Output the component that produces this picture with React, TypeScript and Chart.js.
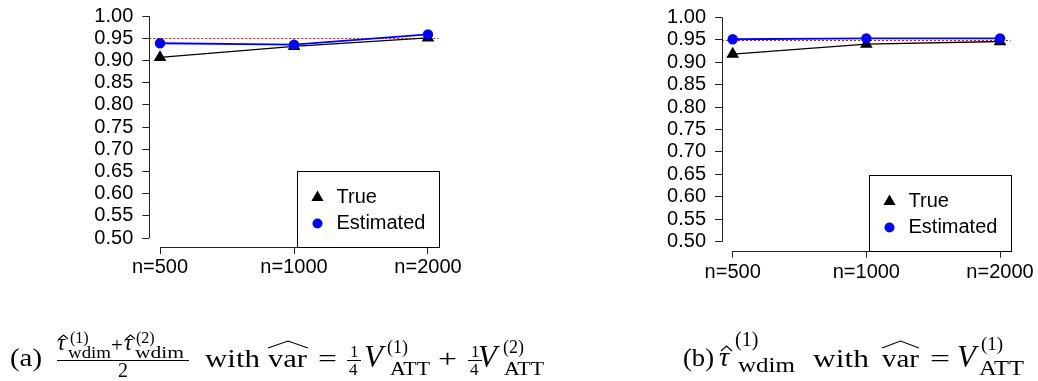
import React, { useEffect, useRef } from "react";
import { Chart, registerables } from "chart.js";

Chart.register(...registerables);

// ---------- data ----------
const categories = ["n=500", "n=1000", "n=2000"];
const yTickValues = [0.5, 0.55, 0.6, 0.65, 0.7, 0.75, 0.8, 0.85, 0.9, 0.95, 1.0];
const yTickLabels = ["0.50", "0.55", "0.60", "0.65", "0.70", "0.75", "0.80", "0.85", "0.90", "0.95", "1.00"];
const seriesNames = ["True", "Estimated"];
const trueA = [0.907, 0.932, 0.951];
const estimatedA = [0.939, 0.936, 0.959];
const trueB = [0.918, 0.94, 0.946];
const estimatedB = [0.951, 0.953, 0.953];
const nominalLevel = 0.95;
const yMin = 0.48;
const yMax = 1.02;
const xMin = 0.92;
const xMax = 3.08;

const SANS = "'Liberation Sans', Arial, Helvetica, sans-serif";
const SERIF = "'Liberation Serif', 'Times New Roman', serif";

type PanelCfg = {
  left: number;
  width: number;
  height: number;
  yAxisWidth: number;
  padRight: number;
  padTop: number;
  xAxisHeight: number;
  xLabelPad: number;
  trueVals: number[];
  estVals: number[];
};

const panels: PanelCfg[] = [
  { left: 0, width: 520, height: 290, yAxisWidth: 149.3, padRight: 81.3, padTop: 4, xAxisHeight: 43, xLabelPad: 1, trueVals: trueA, estVals: estimatedA },
  { left: 520, width: 518, height: 290, yAxisWidth: 202, padRight: 27.3, padTop: 8.3, xAxisHeight: 39.3, xLabelPad: 3, trueVals: trueB, estVals: estimatedB },
];

function drawTriangle(ctx: CanvasRenderingContext2D, x: number, y: number, r: number) {
  ctx.beginPath();
  for (let k = 0; k < 3; k++) {
    const a = (k * 2 * Math.PI) / 3;
    const px = x + Math.sin(a) * r;
    const py = y - Math.cos(a) * r;
    if (k === 0) ctx.moveTo(px, py);
    else ctx.lineTo(px, py);
  }
  ctx.closePath();
  ctx.fill();
}

const decorPlugin = {
  id: "decor",
  beforeDatasetsDraw(chart: any) {
    const { ctx, chartArea, scales } = chart;
    const y = scales.y.getPixelForValue(nominalLevel);
    ctx.save();
    ctx.strokeStyle = "#ff0000";
    ctx.lineWidth = 1;
    ctx.setLineDash([2, 2]);
    ctx.beginPath();
    ctx.moveTo(chartArea.left, Math.round(y) + 0.5);
    ctx.lineTo(chartArea.right, Math.round(y) + 0.5);
    ctx.stroke();
    ctx.restore();
  },
  afterDraw(chart: any) {
    const { ctx, chartArea, scales } = chart;
    ctx.save();
    // R-style axis lines spanning only the tick range
    ctx.strokeStyle = "#222";
    ctx.lineWidth = 1;
    const ax = Math.round(chartArea.left) + 0.5;
    ctx.beginPath();
    ctx.moveTo(ax, scales.y.getPixelForValue(yTickValues[0]));
    ctx.lineTo(ax, scales.y.getPixelForValue(yTickValues[yTickValues.length - 1]));
    ctx.stroke();
    const ay = Math.round(chartArea.bottom) + 0.5;
    ctx.beginPath();
    ctx.moveTo(scales.x.getPixelForValue(1), ay);
    ctx.lineTo(scales.x.getPixelForValue(categories.length), ay);
    ctx.stroke();

    // legend box, bottom-right of plot region
    const bw = 142;
    const bh = 76;
    const bx = Math.round(chartArea.right - bw) + 0.5;
    const by = Math.round(chartArea.bottom - bh) + 0.5;
    ctx.strokeStyle = "#000";
    ctx.strokeRect(bx, by, bw, bh);
    ctx.fillStyle = "#000";
    drawTriangle(ctx, bx + 20, by + 26, 7);
    ctx.fillStyle = "#0000ff";
    ctx.beginPath();
    ctx.arc(bx + 20, by + 52, 5, 0, Math.PI * 2);
    ctx.fill();
    ctx.fillStyle = "#000";
    ctx.font = `20px ${SANS}`;
    ctx.textBaseline = "middle";
    ctx.textAlign = "left";
    ctx.fillText(seriesNames[0], bx + 39, by + 26);
    ctx.fillText(seriesNames[1], bx + 39, by + 52);
    ctx.restore();
  },
};

function Panel({ cfg }: { cfg: PanelCfg }) {
  const ref = useRef<HTMLCanvasElement | null>(null);
  useEffect(() => {
    if (!ref.current) return;
    const chart = new Chart(ref.current, {
      type: "line",
      data: {
        datasets: [
          {
            label: seriesNames[0],
            data: cfg.trueVals.map((v, i) => ({ x: i + 1, y: v })),
            borderColor: "#000000",
            borderWidth: 1.3,
            pointStyle: "triangle",
            pointRadius: 7.3,
            pointBackgroundColor: "#000000",
            pointBorderWidth: 0,
            order: 1,
          },
          {
            label: seriesNames[1],
            data: cfg.estVals.map((v, i) => ({ x: i + 1, y: v })),
            borderColor: "#0000ff",
            borderWidth: 1.8,
            pointStyle: "circle",
            pointRadius: 5.2,
            pointBackgroundColor: "#0000ff",
            pointBorderWidth: 0,
            order: 0,
          },
        ],
      } as any,
      options: {
        animation: false,
        responsive: false,
        devicePixelRatio: 1,
        events: [],
        layout: { padding: { left: 0, top: cfg.padTop, right: cfg.padRight, bottom: 0 } },
        plugins: { legend: { display: false }, tooltip: { enabled: false }, title: { display: false } },
        scales: {
          x: {
            type: "linear",
            min: xMin,
            max: xMax,
            afterBuildTicks: (s: any) => {
              s.ticks = categories.map((_, i) => ({ value: i + 1 }));
            },
            afterFit: (s: any) => {
              s.height = cfg.xAxisHeight;
              s.paddingLeft = 0;
              s.paddingRight = 0;
              s.paddingTop = 0;
              s.paddingBottom = 0;
            },
            ticks: {
              autoSkip: false,
              maxRotation: 0,
              padding: cfg.xLabelPad,
              color: "#000",
              font: { family: SANS, size: 20 },
              callback: (_v: any, i: number) => categories[i],
            },
            grid: { drawOnChartArea: false, drawTicks: true, tickLength: 7, color: "#222", lineWidth: 1 },
            border: { display: false },
          },
          y: {
            type: "linear",
            min: yMin,
            max: yMax,
            afterBuildTicks: (s: any) => {
              s.ticks = yTickValues.map((v) => ({ value: v }));
            },
            afterFit: (s: any) => {
              s.width = cfg.yAxisWidth;
              s.paddingLeft = 0;
              s.paddingRight = 0;
              s.paddingTop = 0;
              s.paddingBottom = 0;
            },
            ticks: {
              autoSkip: false,
              padding: 9,
              color: "#000",
              font: { family: SANS, size: 20 },
              callback: (_v: any, i: number) => yTickLabels[i],
            },
            grid: { drawOnChartArea: false, drawTicks: true, tickLength: 7, color: "#222", lineWidth: 1 },
            border: { display: false },
          },
        },
      } as any,
      plugins: [decorPlugin],
    });
    return () => chart.destroy();
  }, [cfg]);
  return (
    <div style={{ position: "absolute", left: cfg.left, top: 0, width: cfg.width, height: cfg.height }}>
      <canvas ref={ref} width={cfg.width} height={cfg.height} style={{ width: cfg.width, height: cfg.height, display: "block" }} />
    </div>
  );
}

function T(props: { x: number; y: number; fs: number; len?: number; it?: boolean; children: string }) {
  const { x, y, fs, len, it, children } = props;
  const extra: any = len ? { textLength: len, lengthAdjust: "spacingAndGlyphs" } : {};
  return (
    <text x={x} y={y} fontSize={fs} fontFamily={SERIF} fontStyle={it ? "italic" : "normal"} fill="#000" {...extra}>
      {children}
    </text>
  );
}

function Hat({ x1, x2, yBase, h }: { x1: number; x2: number; yBase: number; h: number }) {
  const mid = (x1 + x2) / 2;
  return <path d={`M${x1} ${yBase} L${mid} ${yBase - h} L${x2} ${yBase}`} fill="none" stroke="#000" strokeWidth={1.1} />;
}

function Captions() {
  return (
    <svg width={1038} height={381} style={{ position: "absolute", left: 0, top: 0, pointerEvents: "none" }}>
      {/* (a) */}
      <T x={10} y={366} fs={26} len={32}>(a)</T>
      <T x={57} y={350} fs={23} it>τ</T>
      <Hat x1={59} x2={68} yBase={339} h={4} />
      <T x={70} y={343} fs={16}>(1)</T>
      <T x={68} y={358} fs={16} len={43}>wdim</T>
      <T x={111} y={352} fs={21}>+</T>
      <T x={124} y={350} fs={23} it>τ</T>
      <Hat x1={126} x2={135} yBase={339} h={4} />
      <T x={136} y={343} fs={16}>(2)</T>
      <T x={135} y={358} fs={16} len={49}>wdim</T>
      <line x1={57} y1={360.5} x2={189} y2={360.5} stroke="#000" strokeWidth={1} />
      <T x={118} y={377} fs={20}>2</T>

      <T x={205} y={367} fs={26} len={55}>with</T>
      <T x={268} y={367} fs={26} len={39}>var</T>
      <Hat x1={268} x2={308} yBase={348} h={7} />
      <T x={318} y={367} fs={26} len={19}>=</T>
      <T x={350} y={357} fs={17}>1</T>
      <line x1={347} y1={360.5} x2={361} y2={360.5} stroke="#000" strokeWidth={1} />
      <T x={349} y={375} fs={17}>4</T>
      <T x={364} y={367} fs={31} it>V</T>
      <T x={387} y={353} fs={18}>(1)</T>
      <T x={390} y={375} fs={19} len={40}>ATT</T>
      <T x={438} y={367} fs={26} len={19}>+</T>
      <T x={471} y={357} fs={17}>1</T>
      <line x1={468} y1={360.5} x2={482} y2={360.5} stroke="#000" strokeWidth={1} />
      <T x={470} y={375} fs={17}>4</T>
      <T x={478} y={367} fs={31} it>V</T>
      <T x={503} y={353} fs={18}>(2)</T>
      <T x={504} y={375} fs={19} len={40}>ATT</T>

      {/* (b) */}
      <T x={683} y={366} fs={26} len={31}>(b)</T>
      <T x={719} y={366} fs={28} it>τ</T>
      <Hat x1={721} x2={732} yBase={351} h={5} />
      <T x={735} y={346} fs={20}>(1)</T>
      <T x={738} y={372} fs={20} len={57}>wdim</T>
      <T x={813} y={367} fs={26} len={56}>with</T>
      <T x={882} y={367} fs={26} len={37}>var</T>
      <Hat x1={882} x2={919} yBase={348} h={7} />
      <T x={930} y={367} fs={26} len={20}>=</T>
      <T x={957} y={367} fs={31} it>V</T>
      <T x={981} y={350} fs={19}>(1)</T>
      <T x={979} y={375} fs={21} len={45}>ATT</T>
    </svg>
  );
}

export default function App() {
  return (
    <div style={{ position: "absolute", left: 0, top: 0, width: 1038, height: 381, background: "#fff", overflow: "hidden" }}>
      {panels.map((p, i) => (
        <Panel key={i} cfg={p} />
      ))}
      <Captions />
    </div>
  );
}
